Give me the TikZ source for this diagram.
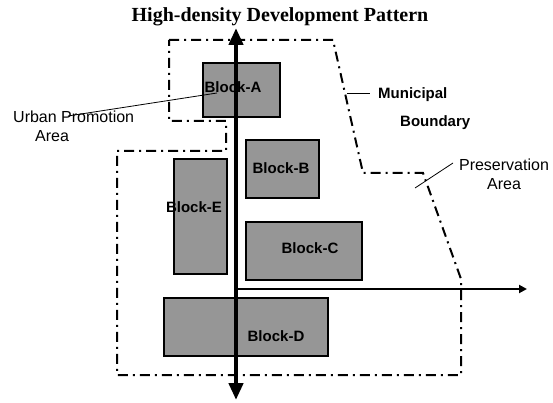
\documentclass[tikz,border=0pt]{standalone}
\usepackage{fontspec}
\setmainfont{Liberation Serif}
\newfontfamily\arialf{Liberation Sans}
\usetikzlibrary{arrows.meta}
\definecolor{blockgray}{RGB}{150,150,150}
\begin{document}
\begin{tikzpicture}[x=1pt,y=-1pt,
  boundary/.style={line width=2pt, dash pattern=on 10pt off 5pt on 2pt off 5pt, line join=miter},
  blockbox/.style={draw, line width=1.5pt, fill=blockgray, inner sep=0, outer sep=0},
  blocklabel/.style={font=\arialf\bfseries\fontsize{15}{18}\selectfont, inner sep=0},
  plainlabel/.style={font=\arialf\fontsize{16}{19}\selectfont, inner sep=0},
  leader/.style={line width=0.8pt},
  mainaxis/.style={line width=4.5pt, {Triangle[length=17pt,width=14pt]}-{Triangle[length=17pt,width=14pt]}},
  sideaxis/.style={line width=2pt, -{Triangle[length=8pt,width=8pt]}},
]
\useasboundingbox (0,0) rectangle (553,403);
% title
\node[font=\bfseries\fontsize{20}{24}\selectfont, inner sep=0] (title) at (280,17) {High-density Development Pattern};
% boundary outline
\draw[boundary] (169,40) -- (333,40) -- (363,173) -- (423,173) -- (461,279) -- (461,375)
  -- (117,375) -- (117,151) -- (226,151) -- (226,121) -- (169,121) -- cycle;
% blocks
\node[blockbox, minimum width=77pt, minimum height=54pt] (blockA) at (241.5,90) {};
\node[blockbox, minimum width=73pt, minimum height=58pt] (blockB) at (282.5,169) {};
\node[blockbox, minimum width=116pt, minimum height=58pt] (blockC) at (304,251) {};
\node[blockbox, minimum width=164pt, minimum height=58pt] (blockD) at (246,327) {};
\node[blockbox, minimum width=53pt, minimum height=115pt] (blockE) at (200.5,216.5) {};
% axes
\coordinate (vtop) at (236,28);
\coordinate (vbot) at (236,400);
\coordinate (hstart) at (236,289);
\coordinate (hend) at (527,289);
\draw[sideaxis] (hstart) -- (hend);
\draw[mainaxis] (vbot) -- (vtop);
% block labels
\node[blocklabel] (labA) at (233,87) {Block-A};
\node[blocklabel] (labB) at (281,168) {Block-B};
\node[blocklabel] (labC) at (310,248) {Block-C};
\node[blocklabel] (labD) at (276,336) {Block-D};
\node[blocklabel] (labE) at (194,207) {Block-E};
% side labels
\node[plainlabel, align=left, anchor=west] (urban) at (13,126.5) {Urban Promotion\\\hspace*{22pt}Area};
\node[blocklabel, align=left, anchor=west, font=\arialf\bfseries\fontsize{15}{28}\selectfont] (municipal) at (378,109) {Municipal\\\hspace*{22pt}Boundary};
\node[plainlabel, align=center] (preserve) at (504,174.5) {Preservation\\Area};
% leaders
\coordinate (urbanS) at (68,116);
\coordinate (urbanE) at (217,93);
\coordinate (munS) at (347,93);
\coordinate (munE) at (370,93);
\coordinate (presS) at (415,188);
\coordinate (presE) at (453,163);
\draw[leader] (urbanS) -- (urbanE);
\draw[leader] (munS) -- (munE);
\draw[leader] (presS) -- (presE);
\end{tikzpicture}
\end{document}
